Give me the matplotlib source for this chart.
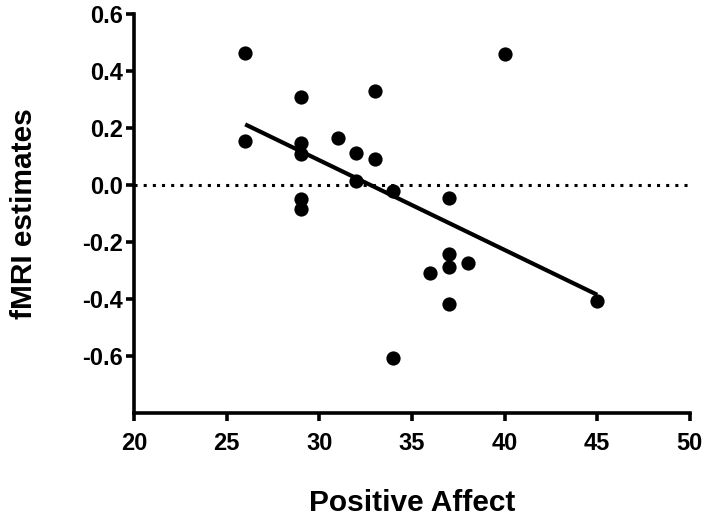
import matplotlib
matplotlib.use("Agg")
import matplotlib.pyplot as plt
import numpy as np

positive_affect = [26, 26, 29, 29, 29, 29, 29, 31, 32, 32, 33, 33, 34, 34, 36, 37, 37, 37, 37, 38, 40, 45]
fmri_estimates = [0.463, 0.154, 0.309, 0.147, 0.109, -0.049, -0.084, 0.165, 0.112, 0.014, 0.330, 0.091,
                  -0.021, -0.607, -0.310, -0.046, -0.242, -0.288, -0.418, -0.274, 0.460, -0.407]
x_ticks = [20, 25, 30, 35, 40, 45, 50]
y_ticks = [-0.6, -0.4, -0.2, 0.0, 0.2, 0.4, 0.6]

plt.rcParams['font.family'] = ['Liberation Sans', 'DejaVu Sans']
plt.rcParams['font.weight'] = 'bold'

fig = plt.figure(figsize=(7.09, 5.18), dpi=100)
ax = fig.add_axes([0.189, 0.203, 0.784, 0.770])

x = np.array(positive_affect)
y = np.array(fmri_estimates)
slope, intercept = np.polyfit(x, y, 1)
xl = np.array([x.min(), x.max()])
ax.plot(xl, slope * xl + intercept, color='black', lw=3, zorder=2, solid_capstyle='butt')
ax.axhline(0, color='black', lw=2.2, linestyle=(0, (1, 2)), zorder=1)
ax.scatter(x, y, s=105, color='black', zorder=3, linewidths=0)

ax.set_xlim(20, 50)
ax.set_ylim(-0.8, 0.6)
ax.set_xticks(x_ticks)
ax.set_xticklabels([str(v) for v in x_ticks])
ax.set_yticks(y_ticks)
ax.set_yticklabels([f"{v:.1f}" for v in y_ticks])

for s in ['top', 'right']:
    ax.spines[s].set_visible(False)
for s in ['left', 'bottom']:
    ax.spines[s].set_linewidth(2.6)
ax.tick_params(direction='out', length=6, width=2.6, labelsize=17)
ax.tick_params(axis='x', pad=8)
ax.tick_params(axis='y', pad=2)
for lab in ax.get_xticklabels() + ax.get_yticklabels():
    lab.set_fontweight('bold')

ax.set_xlabel('Positive Affect', fontsize=21.5, fontweight='bold', labelpad=24)
ax.set_ylabel('fMRI estimates', fontsize=21.5, fontweight='bold', labelpad=32)

fig.savefig('out.png', dpi=100)
